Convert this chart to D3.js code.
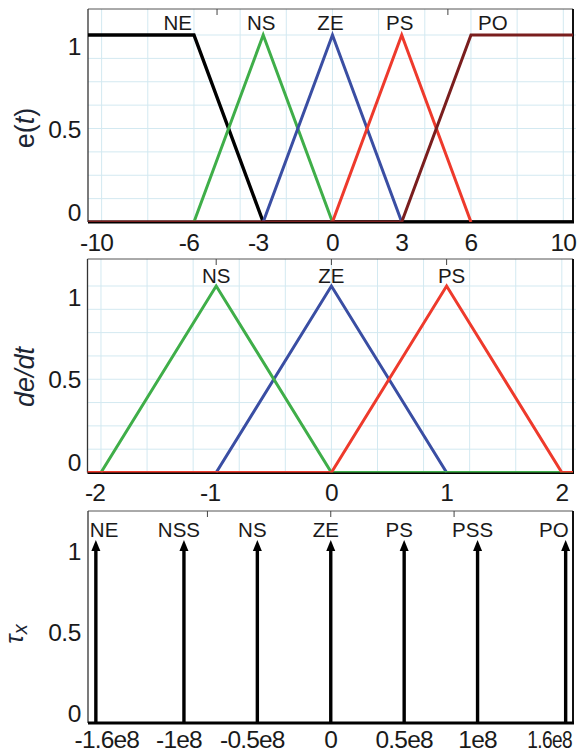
<!DOCTYPE html>
<html>
<head>
<meta charset="utf-8">
<script src="https://cdn.jsdelivr.net/npm/d3@7"></script>
<style>
  body { margin: 0; background: #fff; }
  text { font-family: "Liberation Sans", Arial, sans-serif; fill: #1a1a1a; }
</style>
</head>
<body>
<svg id="chart" width="577" height="755"></svg>
<script>
// ---- Error e(t): fuzzy sets as [x, membership] breakpoints ----
const eSets = ["NE", "NS", "ZE", "PS", "PO"];
const eBreaks = [
  [[-10.6, 1], [-6, 1], [-3, 0], [10.5, 0]],
  [[-6, 0], [-3, 1], [0, 0]],
  [[-3, 0], [0, 1], [3, 0]],
  [[0, 0], [3, 1], [6, 0]],
  [[-10.6, 0], [3, 0], [6, 1], [10.5, 1]]
];
const eColors = ["#000000", "#3fae49", "#3a4ea3", "#ee3a2c", "#7a1e1e"];
const eTicks = [-10, -6, -3, 0, 3, 6, 10];
const eTopTicks = [-5, 5];

// ---- Error rate de/dt ----
const deSets = ["NS", "ZE", "PS"];
const deBreaks = [
  [[-2, 0], [-1, 1], [0, 0], [2.2, 0]],
  [[-1, 0], [0, 1], [1, 0]],
  [[-2.2, 0], [0, 0], [1, 1], [2, 0], [2.2, 0]]
];
const deColors = ["#3fae49", "#3a4ea3", "#ee3a2c"];
const deDrawOrder = [1, 0, 2];
const deTicks = [-2, -1, 0, 1, 2];
const deTopTicks = [-1, 0, 1];

// ---- Output torque tau_x: singleton sets ----
const tauSets = ["NE", "NSS", "NS", "ZE", "PS", "PSS", "PO"];
const tauValues = [-1.6e8, -1e8, -0.5e8, 0, 0.5e8, 1e8, 1.6e8];
const tauHeights = [1, 1, 1, 1, 1, 1, 1];
const tauTicks = [-1.6e8, -1e8, -0.5e8, 0, 0.5e8, 1e8, 1.6e8];
const tauTickLabels = ["-1.6e8", "-1e8", "-0.5e8", "0", "0.5e8", "1e8", "1.6e8"];
const tauTopTicks = [-0.84e8, 0, 0.84e8];

const yTicks = [0, 0.5, 1];

const svg = d3.select("#chart");
svg.append("rect").attr("width", 577).attr("height", 755).attr("fill", "#fff");

const gridColor = "#d3e9f1";

function makePanel(cfg) {
  const g = svg.append("g");
  const x = d3.scaleLinear().domain(cfg.xDomain).range([cfg.left, cfg.right]);
  const y = d3.scaleLinear().domain([0, 1]).range([cfg.bottom, cfg.y1]);
  const yLab = d3.scaleLinear().domain([0, 1]).range([cfg.bottom - 10, cfg.y1 + 11]);

  const clipId = "clip" + cfg.id;
  svg.append("clipPath").attr("id", clipId).append("rect")
    .attr("x", cfg.left).attr("y", cfg.top)
    .attr("width", cfg.right - cfg.left).attr("height", cfg.bottom - cfg.top);

  if (cfg.xGrid) {
    g.append("g").selectAll("line").data(cfg.xGrid).join("line")
      .attr("x1", d => x(d)).attr("x2", d => x(d))
      .attr("y1", cfg.top).attr("y2", cfg.bottom)
      .attr("stroke", gridColor).attr("stroke-width", 1);
    g.append("g").selectAll("line").data(cfg.yGrid).join("line")
      .attr("x1", cfg.left).attr("x2", cfg.right + 3)
      .attr("y1", d => y(d)).attr("y2", d => y(d))
      .attr("stroke", gridColor).attr("stroke-width", 1);
  }

  // frame
  g.append("line").attr("x1", cfg.left).attr("x2", cfg.right).attr("y1", cfg.top).attr("y2", cfg.top)
    .attr("stroke", "#555").attr("stroke-width", 1);
  g.append("line").attr("x1", cfg.left).attr("x2", cfg.left).attr("y1", cfg.top).attr("y2", cfg.bottom)
    .attr("stroke", "#333").attr("stroke-width", 1.3);
  g.append("line").attr("x1", cfg.right).attr("x2", cfg.right).attr("y1", cfg.top).attr("y2", cfg.bottom + 1)
    .attr("stroke", "#111").attr("stroke-width", 2);
  g.append("line").attr("x1", cfg.left).attr("x2", cfg.right + 1).attr("y1", cfg.bottom).attr("y2", cfg.bottom)
    .attr("stroke", "#000").attr("stroke-width", 3);

  // small ticks along the top edge
  g.append("g").selectAll("line").data(cfg.topTicks).join("line")
    .attr("x1", d => x(d)).attr("x2", d => x(d))
    .attr("y1", cfg.top).attr("y2", cfg.top + 6)
    .attr("stroke", "#444").attr("stroke-width", 1);

  // y tick labels
  g.append("g").selectAll("text").data(yTicks).join("text")
    .attr("x", 81).attr("y", d => yLab(d))
    .attr("text-anchor", "end").attr("dominant-baseline", "central")
    .attr("font-size", 24.5).attr("letter-spacing", -0.4).text(d => d);

  // x tick labels (each placed by translate so a crowded one can be condensed)
  const squeeze = cfg.squeeze || (() => 1);
  g.append("g").selectAll("text").data(cfg.xTicks).join("text")
    .attr("transform", (d, i) =>
      `translate(${x(d) + cfg.tickDx(d, i)},${cfg.labelY}) scale(${squeeze(d, i)},1)`)
    .attr("text-anchor", "middle")
    .attr("font-size", 24.5).attr("letter-spacing", -0.8)
    .text((d, i) => cfg.tickLabels ? cfg.tickLabels[i] : d);

  return { g, x, y, clipId };
}

// ---------- Panel 1: e(t) ----------
const p1 = makePanel({
  id: 1, left: 88, right: 573, top: 9, bottom: 222, y1: 35, labelY: 251,
  xDomain: [-10.59, 10.42],
  xGrid: d3.range(-10, 10.01, 2), yGrid: d3.range(0.125, 1.01, 0.125),
  topTicks: eTopTicks, xTicks: eTicks,
  tickDx: d => (d < 0 ? -5 : 0)
});
const line1 = d3.line().x(d => p1.x(d[0])).y(d => p1.y(d[1]));
p1.g.append("g").attr("clip-path", `url(#${p1.clipId})`)
  .selectAll("path").data(eBreaks).join("path")
  .attr("d", line1).attr("fill", "none")
  .attr("stroke", (d, i) => eColors[i])
  .attr("stroke-width", (d, i) => (i === 0 ? 3.4 : 3))
  .attr("stroke-linejoin", "miter");

p1.g.append("g").selectAll("text").data(eSets).join("text")
  .attr("font-size", 20.5).attr("y", 30)
  .attr("x", (d, i) => {
    const peak = eBreaks[i].find(p => p[1] === 1);
    if (i === 0) return p1.x(-6) - 2;
    if (i === eSets.length - 1) return p1.x(6) + 7;
    return p1.x(peak[0]) - 2;
  })
  .attr("text-anchor", (d, i) => (i === 0 ? "end" : i === eSets.length - 1 ? "start" : "middle"))
  .text(d => d);

// ---------- Panel 2: de/dt ----------
const p2 = makePanel({
  id: 2, left: 87.5, right: 573, top: 259, bottom: 472.5, y1: 286, labelY: 501,
  xDomain: [-2.117, 2.097],
  xGrid: d3.range(-2, 2.01, 0.4), yGrid: d3.range(0.125, 1.01, 0.125),
  topTicks: deTopTicks, xTicks: deTicks,
  tickDx: d => (d < 0 ? -6 : 0)
});
const line2 = d3.line().x(d => p2.x(d[0])).y(d => p2.y(d[1]));
p2.g.append("g").attr("clip-path", `url(#${p2.clipId})`)
  .selectAll("path").data(deDrawOrder).join("path")
  .attr("d", i => line2(deBreaks[i])).attr("fill", "none")
  .attr("stroke", i => deColors[i]).attr("stroke-width", 3);

p2.g.append("g").selectAll("text").data(deSets).join("text")
  .attr("font-size", 20.5).attr("y", 283)
  .attr("x", (d, i) => p2.x(deBreaks[i].find(p => p[1] === 1)[0]) + (i === 2 ? 5 : 0))
  .attr("text-anchor", "middle")
  .text(d => d);

// ---------- Panel 3: tau_x ----------
const p3 = makePanel({
  id: 3, left: 88, right: 573, top: 511, bottom: 723, y1: 540, labelY: 748,
  xDomain: [-1.6535e8, 1.650e8],
  xGrid: null,
  topTicks: tauTopTicks, xTicks: tauTicks, tickLabels: tauTickLabels,
  squeeze: (d, i) => (i === tauTicks.length - 1 ? 0.78 : 1),
  tickDx: (d, i) => (i === 0 ? 11 : i === tauTicks.length - 1 ? -16 : d < 0 ? -5 : 0)
});

const arrows = p3.g.append("g");
arrows.selectAll("line").data(tauValues).join("line")
  .attr("x1", d => p3.x(d)).attr("x2", d => p3.x(d))
  .attr("y1", p3.y(0)).attr("y2", (d, i) => p3.y(tauHeights[i]) + 8)
  .attr("stroke", "#000").attr("stroke-width", 3.4);
arrows.selectAll("path").data(tauValues).join("path")
  .attr("d", (d, i) => {
    const cx = p3.x(d), ty = p3.y(tauHeights[i]);
    return `M${cx},${ty} L${cx - 4.5},${ty + 11} L${cx + 4.5},${ty + 11} Z`;
  })
  .attr("fill", "#000");

p3.g.append("g").selectAll("text").data(tauSets).join("text")
  .attr("font-size", 20.5).attr("y", 537)
  .attr("x", (d, i) => {
    const cx = p3.x(tauValues[i]);
    if (i === 0) return cx - 6;
    if (i === tauSets.length - 1) return cx + 3;
    return cx - 5;
  })
  .attr("text-anchor", (d, i) => (i === 0 ? "start" : i === tauSets.length - 1 ? "end" : "middle"))
  .text(d => d);

// ---------- Axis titles ----------
const t1 = svg.append("text").attr("transform", "translate(34,128) rotate(-90)")
  .attr("text-anchor", "middle").attr("font-size", 27).style("fill", "#1c2533");
t1.append("tspan").text("e(");
t1.append("tspan").attr("font-style", "italic").text("t");
t1.append("tspan").text(")");

svg.append("text").attr("transform", "translate(34,377) rotate(-90)")
  .attr("text-anchor", "middle").attr("font-size", 27).attr("font-style", "italic")
  .style("fill", "#1c2533").text("de/dt");

const t3 = svg.append("text").attr("transform", "translate(23,634) rotate(-90)")
  .attr("text-anchor", "middle").style("fill", "#1c2533")
  .attr("font-family", "'DejaVu Serif', 'Liberation Serif', serif").attr("font-style", "italic");
t3.append("tspan").attr("font-size", 25).text("τ");
t3.append("tspan").attr("font-size", 20).attr("dy", 4).text("x");
</script>
</body>
</html>
